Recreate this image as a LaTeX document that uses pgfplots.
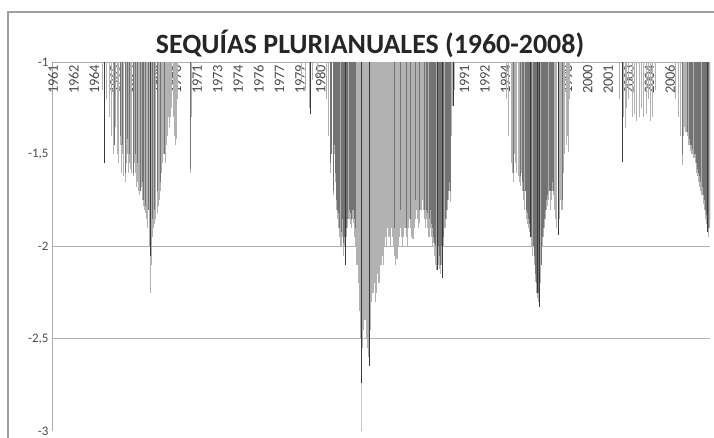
\documentclass[border=0pt]{standalone}
\usepackage{pgfplots}
\pgfplotsset{compat=1.18}
\usepackage{fontspec}
\setmainfont{Carlito}
\definecolor{lightbar}{gray}{0.70}
\definecolor{midbar}{gray}{0.45}
\definecolor{darkbar}{gray}{0.22}
\begin{document}
\begin{tikzpicture}[x=1bp,y=1bp]
\useasboundingbox (0,0) rectangle (714,438);
\fill[white] (0,0) rectangle (714,438);
\draw[gray!75, line width=1.2bp] (8,0) -- (8,426) -- (714,426);
\node[font=\fontsize{28}{30}\bfseries\selectfont, text=black!85] at (370,394) {SEQUÍAS PLURIANUALES (1960-2008)};
\begin{axis}[
  at={(52bp,7bp)}, anchor=south west,
  scale only axis, width=658bp, height=369bp,
  xmin=0, xmax=576, ymin=-3, ymax=-1,
  axis x line*=top, axis y line*=left,
  axis line style={gray!65, line width=0.8bp},
  xtick={1,19,...,559},
  xticklabels={1961,1962,1964,1965,1967,1968,1970,1971,1973,1974,1976,1977,1979,1980,1982,1983,1985,1986,1988,1989,1991,1992,1994,1995,1997,1998,2000,2001,2003,2004,2006,2007},
  xticklabel pos=upper,
  xticklabel style={font=\fontsize{14.5}{14.5}\selectfont, text=black!70, rotate=90, anchor=east, inner sep=2.5bp},
  ytick={-3,-2.5,-2,-1.5,-1},
  yticklabels={{-3},{-2,5},{-2},{-1,5},{-1}},
  yticklabel style={font=\fontsize{13}{13}\selectfont, text=black!70},
  major tick length=0pt,
  extra y ticks={-2,-2.5},
  extra y tick labels={},
  extra y tick style={grid=major, major grid style={gray!60, line width=0.9bp}},
]
% light envelope
\addplot[ycomb, lightbar, line width=1.05bp] coordinates {
(44,-1.15)(46,-1.55)(48,-1.2)(50,-1.3)(52,-1.4)(54,-1.5)(55,-1.45)(56,-1.35)(57,-1.5)(58,-1.55)(60,-1.45)(61,-1.6)(62,-1.5)(63,-1.62)(64,-1.65)(65,-1.55)(66,-1.5)(67,-1.6)(68,-1.55)(69,-1.58)(70,-1.6)(71,-1.62)(72,-1.55)(73,-1.6)(74,-1.68)(75,-1.65)(76,-1.7)(77,-1.72)(78,-1.68)(79,-1.75)(80,-1.78)(81,-1.8)(82,-1.82)(83,-1.85)(84,-1.9)(85,-2.0)(86,-2.25)(87,-2.1)(88,-1.95)(89,-1.9)(90,-1.88)(91,-1.85)(92,-1.82)(93,-1.78)(94,-1.75)(95,-1.7)(96,-1.6)(97,-1.55)(98,-1.5)(99,-1.55)(100,-1.45)(101,-1.4)(102,-1.3)(103,-1.35)(104,-1.3)(105,-1.25)(106,-1.3)(107,-1.4)(108,-1.45)(109,-1.42)(110,-1.2)(121,-1.6)(122,-1.3)
(218,-1.1)(222,-1.15)(225,-1.25)(226,-1.28)(228,-1.1)(232,-1.08)
(240,-1.2)(242,-1.4)(244,-1.6)(246,-1.72)(247,-1.5)(248,-1.65)(249,-1.8)(250,-1.85)(251,-1.9)(252,-1.95)(253,-2.0)(254,-1.95)(255,-2.05)(256,-2.0)(257,-2.1)(258,-1.95)(259,-1.9)(260,-1.85)(261,-1.88)(262,-1.9)(263,-1.85)(264,-1.87)(265,-1.95)(266,-2.0)(267,-2.1)(268,-2.2)(269,-2.35)(270,-2.5)(271,-2.6)(272,-2.55)(273,-2.45)(274,-2.4)(275,-2.5)(276,-2.55)(277,-2.6)(278,-2.65)(279,-2.45)(280,-2.3)(281,-2.25)(282,-2.2)(283,-2.3)(284,-2.25)(285,-2.15)(286,-2.2)(287,-2.2)(288,-2.1)(289,-2.05)(290,-2.1)(291,-2.0)(292,-1.95)(293,-2.0)(294,-1.9)(295,-1.95)(296,-2.0)(297,-1.9)(298,-1.95)(299,-2.0)(300,-2.05)(301,-2.1)(302,-2.07)(303,-2.0)(304,-1.95)(305,-1.9)(306,-1.95)(307,-2.0)(308,-1.95)(309,-1.9)(310,-1.95)(311,-2.0)(312,-1.9)(313,-1.85)(314,-1.9)(315,-1.95)(316,-1.96)(317,-1.9)(318,-1.85)(319,-1.8)(320,-1.85)(321,-1.9)(322,-1.87)(323,-1.8)(324,-1.75)(325,-1.8)(326,-1.85)(327,-1.9)(328,-1.85)(329,-1.9)(330,-1.95)(331,-1.9)(332,-1.95)(333,-2.0)(334,-1.98)(335,-2.05)(336,-2.1)(337,-2.13)(338,-2.1)(339,-2.12)(340,-2.15)(341,-2.1)(342,-2.17)(343,-2.0)(344,-1.9)(345,-1.85)(346,-1.8)(347,-1.75)(348,-1.7)(349,-1.76)(350,-1.4)(351,-1.24)(352,-1.15)
(398,-1.2)(400,-1.4)(402,-1.55)(403,-1.6)(404,-1.65)(405,-1.5)(406,-1.55)(407,-1.6)(408,-1.62)(409,-1.65)(410,-1.67)(411,-1.6)(412,-1.7)(413,-1.75)(414,-1.8)(415,-1.85)(416,-1.88)(417,-1.9)(418,-1.92)(419,-1.95)(420,-2.0)(421,-2.05)(422,-2.1)(423,-2.19)(424,-2.25)(425,-2.28)(426,-2.3)(427,-2.33)(428,-2.2)(429,-2.0)(430,-1.95)(431,-1.9)(432,-1.85)(433,-1.8)(434,-1.78)(435,-1.75)(436,-1.8)(437,-1.75)(438,-1.7)(439,-1.72)(440,-1.8)(441,-1.85)(442,-1.9)(443,-1.94)(444,-1.85)(445,-1.75)(446,-1.8)(447,-1.8)(448,-1.6)(449,-1.5)(450,-1.45)(451,-1.4)(452,-1.49)(453,-1.2)
(497,-1.2)(499,-1.54)(500,-1.3)(502,-1.36)(503,-1.25)(505,-1.2)(508,-1.3)(510,-1.28)(512,-1.32)(514,-1.3)(516,-1.25)(518,-1.3)(520,-1.28)(522,-1.2)(524,-1.32)(526,-1.3)(528,-1.15)
(546,-1.2)(548,-1.3)(550,-1.4)(552,-1.56)(553,-1.4)(554,-1.35)(555,-1.38)(556,-1.4)(557,-1.45)(558,-1.45)(559,-1.48)(560,-1.5)(561,-1.5)(562,-1.52)(563,-1.55)(564,-1.6)(565,-1.62)(566,-1.65)(567,-1.68)(568,-1.7)(569,-1.72)(570,-1.77)(571,-1.8)(572,-1.85)(573,-1.88)(574,-1.92)(575,-1.95)(576,-1.9)
};
% light long line
\addplot[ycomb, gray!45, line width=0.7bp] coordinates {(271,-3.05)};
% medium
\addplot[ycomb, midbar, line width=0.8bp] coordinates {
(55,-1.45)(60,-1.4)(62,-1.45)(64,-1.6)(66,-1.42)(68,-1.5)(71,-1.6)(73,-1.5)(75,-1.55)(77,-1.7)(79,-1.65)(80,-1.75)(82,-1.78)(84,-1.8)(86,-2.05)(88,-1.85)(90,-1.8)(92,-1.7)(95,-1.65)(98,-1.5)(121,-1.58)
(244,-1.55)(245,-1.5)(246,-1.7)(247,-1.45)(248,-1.6)(249,-1.75)(250,-1.8)(251,-1.82)(252,-1.9)(253,-1.92)(254,-1.85)(255,-1.98)(256,-1.95)(257,-2.05)(258,-1.9)(259,-1.85)(260,-1.8)(261,-1.82)(262,-1.85)(263,-1.8)(264,-1.8)(265,-1.85)(266,-1.9)
(300,-1.9)(305,-1.8)(310,-1.9)(314,-1.85)(318,-1.75)(322,-1.8)(326,-1.8)
(328,-1.8)(329,-1.82)(330,-1.85)(331,-1.8)(332,-1.88)(333,-1.9)(334,-1.95)(335,-1.98)(336,-2.0)(337,-2.05)(338,-2.0)(339,-2.05)(340,-2.1)(341,-2.0)(342,-2.1)(343,-1.95)(344,-1.85)(345,-1.8)(346,-1.75)(347,-1.7)(348,-1.65)(349,-1.7)
(404,-1.6)(410,-1.62)(412,-1.65)(413,-1.7)(414,-1.7)(415,-1.8)(416,-1.82)(417,-1.85)(418,-1.88)(419,-1.9)(420,-1.95)(421,-2.0)(422,-2.05)(423,-2.15)(424,-2.2)(425,-2.2)(426,-2.25)(427,-2.25)(428,-2.1)(429,-1.95)(430,-1.9)(431,-1.85)(432,-1.8)(433,-1.75)(434,-1.72)(435,-1.7)(436,-1.7)(437,-1.7)(438,-1.65)(439,-1.7)(443,-1.9)(447,-1.75)
(552,-1.5)(556,-1.38)(558,-1.42)(559,-1.45)(560,-1.45)(561,-1.47)(562,-1.5)(563,-1.5)(564,-1.55)(565,-1.58)(566,-1.6)(567,-1.62)(568,-1.65)(569,-1.68)(570,-1.72)(571,-1.75)(572,-1.8)(573,-1.83)(574,-1.88)(575,-1.9)(576,-1.85)
};
% dark
\addplot[ycomb, darkbar, line width=0.7bp] coordinates {
(46,-1.55)(86,-2.05)(226,-1.28)(257,-2.1)(271,-2.74)(278,-2.65)(337,-2.13)(342,-2.17)(351,-1.24)(419,-1.95)(425,-2.25)(427,-2.33)(443,-1.94)(499,-1.54)(574,-1.92)
};
\end{axis}
\end{tikzpicture}
\end{document}
